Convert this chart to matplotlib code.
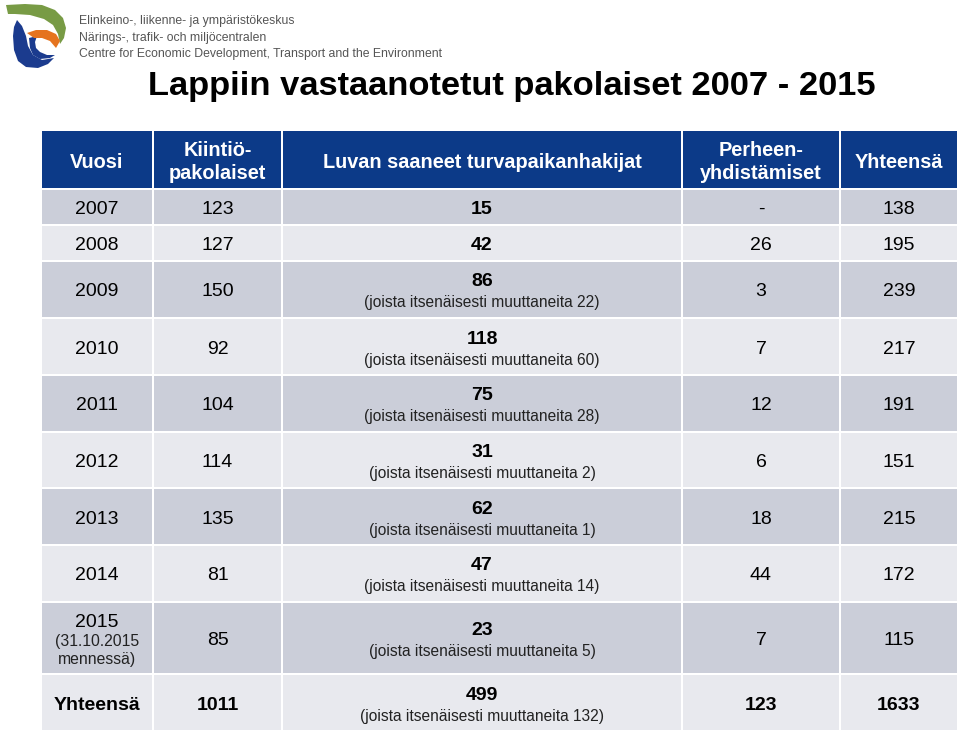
import matplotlib.pyplot as plt
from matplotlib.patches import Rectangle, Polygon
from matplotlib import font_manager

# ---- data ----
headers = ['Vuosi', 'Kiintiö-\npakolaiset', 'Luvan saaneet turvapaikanhakijat',
           'Perheen-\nyhdistämiset', 'Yhteensä']
years = ['2007', '2008', '2009', '2010', '2011', '2012', '2013', '2014', '2015']
kiintio = [123, 127, 150, 92, 104, 114, 135, 81, 85]
turva = [15, 42, 86, 118, 75, 31, 62, 47, 23]
itsenaiset = [None, None, 22, 60, 28, 2, 1, 14, 5]
perhe = ['-', '26', '3', '7', '12', '6', '18', '44', '7']
yhteensa = [138, 195, 239, 217, 191, 151, 215, 172, 115]
tot_kiintio, tot_turva, tot_its, tot_perhe, tot_all = 1011, 499, 132, 123, 1633

# ---- layout (pixels) ----
W, H = 960, 734
col_x = [41, 153, 282, 682, 840, 958]
row_y = [130, 189, 225, 261, 318, 375, 432, 488, 545, 602, 674, 731]

NAVY = '#0c3a88'
DARK = '#cbced9'
LIGHT = '#e8e9ee'

names = {f.name for f in font_manager.fontManager.ttflist}
narrow = 'Liberation Sans Narrow' if 'Liberation Sans Narrow' in names else 'Liberation Sans'
FONT = ['Liberation Sans', 'DejaVu Sans']

fig = plt.figure(figsize=(W / 100, H / 100), dpi=100)
ax = fig.add_axes([0, 0, 1, 1])
ax.set_xlim(0, W)
ax.set_ylim(H, 0)
ax.axis('off')

# logo
ax.add_patch(Polygon([(6, 5), (25, 4), (42, 5), (55, 10), (63, 18), (66, 28), (64, 38),
                      (60, 44), (58, 34), (53, 25), (44, 19), (30, 15), (15, 14), (8, 14)],
                     closed=True, facecolor='#789b45', edgecolor='none'))
ax.add_patch(Polygon([(17, 20), (22, 26), (26, 36), (28, 46), (33, 55), (42, 60), (54, 58),
                      (48, 64), (38, 68), (26, 67), (18, 61), (14, 50), (13, 36), (14, 27)],
                     closed=True, facecolor='#1b3b8e', edgecolor='none'))
ax.add_patch(Polygon([(29, 38), (37, 36), (35, 42), (36, 48), (40, 52), (47, 55), (55, 55),
                      (50, 58), (40, 59), (33, 55), (30, 48)],
                     closed=True, facecolor='#1b3b8e', edgecolor='none'))
ax.add_patch(Polygon([(27, 33), (36, 30), (47, 30), (56, 34), (60, 41), (56, 48), (50, 41),
                      (42, 38), (34, 38)],
                     closed=True, facecolor='#e5731f', edgecolor='none'))
logo_lines = ['Elinkeino-, liikenne- ja ympäristökeskus',
              'Närings-, trafik- och miljöcentralen',
              'Centre for Economic Development, Transport and the Environment']
for i, t in enumerate(logo_lines):
    ax.text(79, 21 + i * 16.5, t, fontsize=8.8, color='#555555', va='center',
            ha='left', family=FONT)

ax.text(512, 87, 'Lappiin vastaanotetut pakolaiset 2007 - 2015', fontsize=24.8,
        fontweight='bold', ha='center', va='center', family=[narrow, 'DejaVu Sans'],
        fontstretch='condensed')

gap = 1.5
SUB = 11.2
dy = 2.5  # nudge text down a little so digits sit on the cell centre


def cell(c, r, color):
    x0, x1 = col_x[c] + gap / 2, col_x[c + 1] - gap / 2
    y0, y1 = row_y[r] + gap / 2, row_y[r + 1] - gap / 2
    ax.add_patch(Rectangle((x0, y0), x1 - x0, y1 - y0, facecolor=color, edgecolor='none'))
    return (x0 + x1) / 2, (y0 + y1) / 2 + dy


# header
for c, h in enumerate(headers):
    cx, cy = cell(c, 0, NAVY)
    ax.text(cx, cy, h, color='white', fontsize=14.3, fontweight='bold', ha='center',
            va='center', family=FONT, linespacing=1.3)

# data rows
for i, yr in enumerate(years):
    r = i + 1
    color = DARK if i % 2 == 0 else LIGHT
    centers = [cell(c, r, color) for c in range(5)]
    cx, cy = centers[0]
    if yr == '2015':
        ax.text(cx, cy - 18, yr, fontsize=14, ha='center', va='center', family=FONT)
        ax.text(cx, cy + 10, '(31.10.2015\nmennessä)', fontsize=11.3, ha='center',
                va='center', family=FONT, linespacing=1.25, color='#222222')
    else:
        ax.text(cx, cy, yr, fontsize=14, ha='center', va='center', family=FONT)
    cx, cy = centers[1]
    ax.text(cx, cy, str(kiintio[i]), fontsize=14, ha='center', va='center', family=FONT)
    cx, cy = centers[2]
    if itsenaiset[i] is None:
        ax.text(cx, cy, str(turva[i]), fontsize=14, fontweight='bold', ha='center',
                va='center', family=FONT)
    else:
        ax.text(cx, cy - 10, str(turva[i]), fontsize=14, fontweight='bold', ha='center',
                va='center', family=FONT)
        ax.text(cx, cy + 11, '(joista itsenäisesti muuttaneita %d)' % itsenaiset[i],
                fontsize=SUB, ha='center', va='center', family=FONT, color='#222222')
    cx, cy = centers[3]
    ax.text(cx, cy, perhe[i], fontsize=14, ha='center', va='center', family=FONT)
    cx, cy = centers[4]
    ax.text(cx, cy, str(yhteensa[i]), fontsize=14, ha='center', va='center', family=FONT)

# totals
r = len(years) + 1
centers = [cell(c, r, LIGHT) for c in range(5)]
vals = ['Yhteensä', str(tot_kiintio), None, str(tot_perhe), str(tot_all)]
for c, v in enumerate(vals):
    cx, cy = centers[c]
    if v is None:
        ax.text(cx, cy - 10, str(tot_turva), fontsize=14, fontweight='bold', ha='center',
                va='center', family=FONT)
        ax.text(cx, cy + 11, '(joista itsenäisesti muuttaneita %d)' % tot_its,
                fontsize=SUB, ha='center', va='center', family=FONT, color='#222222')
    else:
        ax.text(cx, cy, v, fontsize=14, fontweight='bold', ha='center', va='center',
                family=FONT)

fig.savefig('out.png', dpi=100, facecolor='white')
